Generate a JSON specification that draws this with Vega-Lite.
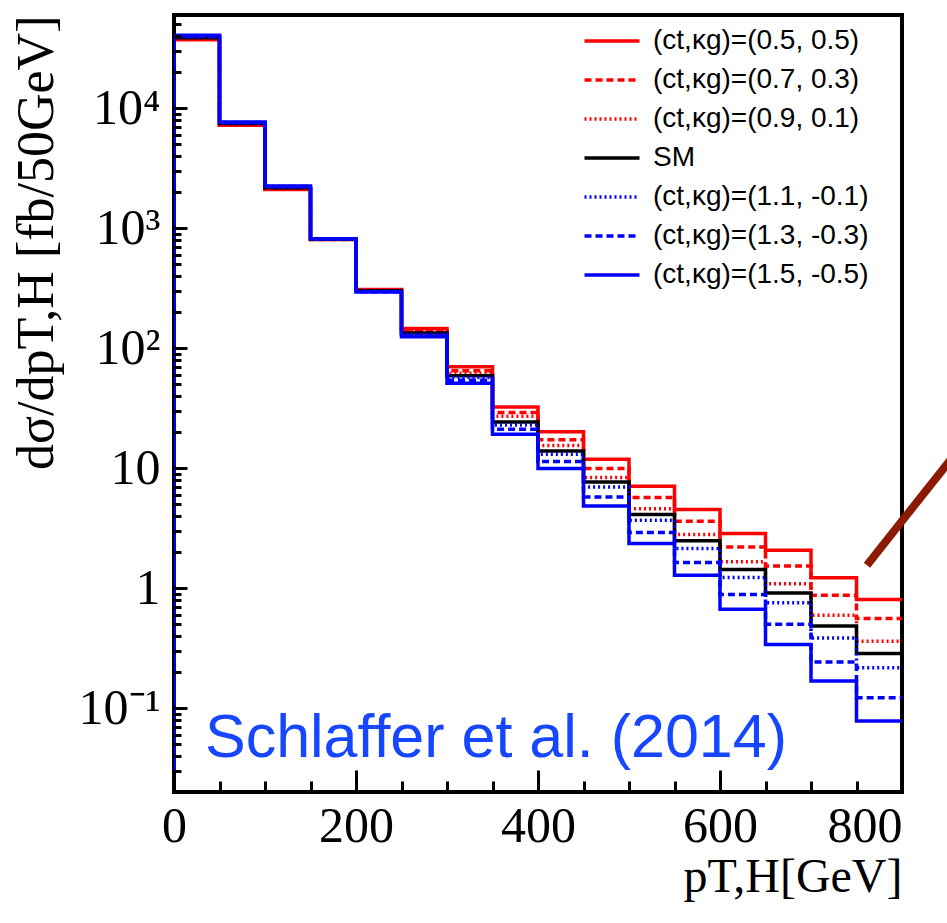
{
  "$schema": "https://vega.github.io/schema/vega-lite/v6.json",
  "width": 728,
  "height": 777,
  "autosize": {"type": "none"},
  "padding": {"left": 174, "top": 15, "right": 45, "bottom": 131},
  "background": "white",
  "config": {
    "view": {"stroke": "black", "strokeWidth": 4},
    "axis": {"labelColor": "black", "tickColor": "black", "titleColor": "black", "domain": false, "grid": false},
    "legend": {
      "orient": "none",
      "legendX": 424,
      "legendY": 12,
      "symbolType": "M-2.5,0H2.5",
      "symbolSize": 484,
      "symbolStrokeWidth": 3.5,
      "labelFont": "Liberation Sans",
      "labelFontSize": 28,
      "labelColor": "black",
      "labelOffset": 27,
      "rowPadding": 11,
      "padding": 0,
      "labelLimit": 500,
      "symbolLimit": 0
    }
  },
  "layer": [
    {
      "data": {"values": [
        {"s":"(ct,κg)=(0.5, 0.5)","x":0,"y":0.001},{"s":"(ct,κg)=(0.5, 0.5)","x":0,"y":37300},{"s":"(ct,κg)=(0.5, 0.5)","x":50,"y":7220},{"s":"(ct,κg)=(0.5, 0.5)","x":100,"y":2110},{"s":"(ct,κg)=(0.5, 0.5)","x":150,"y":805},{"s":"(ct,κg)=(0.5, 0.5)","x":200,"y":309},{"s":"(ct,κg)=(0.5, 0.5)","x":250,"y":146},{"s":"(ct,κg)=(0.5, 0.5)","x":300,"y":70},{"s":"(ct,κg)=(0.5, 0.5)","x":350,"y":32.4},{"s":"(ct,κg)=(0.5, 0.5)","x":400,"y":20.1},{"s":"(ct,κg)=(0.5, 0.5)","x":450,"y":11.9},{"s":"(ct,κg)=(0.5, 0.5)","x":500,"y":7.08},{"s":"(ct,κg)=(0.5, 0.5)","x":550,"y":4.53},{"s":"(ct,κg)=(0.5, 0.5)","x":600,"y":2.86},{"s":"(ct,κg)=(0.5, 0.5)","x":650,"y":2.07},{"s":"(ct,κg)=(0.5, 0.5)","x":700,"y":1.22},{"s":"(ct,κg)=(0.5, 0.5)","x":750,"y":0.805},{"s":"(ct,κg)=(0.5, 0.5)","x":800,"y":0.805},
        {"s":"(ct,κg)=(0.7, 0.3)","x":0,"y":0.001},{"s":"(ct,κg)=(0.7, 0.3)","x":0,"y":37800},{"s":"(ct,κg)=(0.7, 0.3)","x":50,"y":7300},{"s":"(ct,κg)=(0.7, 0.3)","x":100,"y":2130},{"s":"(ct,κg)=(0.7, 0.3)","x":150,"y":808},{"s":"(ct,κg)=(0.7, 0.3)","x":200,"y":306},{"s":"(ct,κg)=(0.7, 0.3)","x":250,"y":141},{"s":"(ct,κg)=(0.7, 0.3)","x":300,"y":65},{"s":"(ct,κg)=(0.7, 0.3)","x":350,"y":29.1},{"s":"(ct,κg)=(0.7, 0.3)","x":400,"y":17.3},{"s":"(ct,κg)=(0.7, 0.3)","x":450,"y":9.94},{"s":"(ct,κg)=(0.7, 0.3)","x":500,"y":5.7},{"s":"(ct,κg)=(0.7, 0.3)","x":550,"y":3.61},{"s":"(ct,κg)=(0.7, 0.3)","x":600,"y":2.21},{"s":"(ct,κg)=(0.7, 0.3)","x":650,"y":1.53},{"s":"(ct,κg)=(0.7, 0.3)","x":700,"y":0.874},{"s":"(ct,κg)=(0.7, 0.3)","x":750,"y":0.559},{"s":"(ct,κg)=(0.7, 0.3)","x":800,"y":0.559},
        {"s":"(ct,κg)=(0.9, 0.1)","x":0,"y":0.001},{"s":"(ct,κg)=(0.9, 0.1)","x":0,"y":38300},{"s":"(ct,κg)=(0.9, 0.1)","x":50,"y":7380},{"s":"(ct,κg)=(0.9, 0.1)","x":100,"y":2160},{"s":"(ct,κg)=(0.9, 0.1)","x":150,"y":810},{"s":"(ct,κg)=(0.9, 0.1)","x":200,"y":304},{"s":"(ct,κg)=(0.9, 0.1)","x":250,"y":138},{"s":"(ct,κg)=(0.9, 0.1)","x":300,"y":62},{"s":"(ct,κg)=(0.9, 0.1)","x":350,"y":27.1},{"s":"(ct,κg)=(0.9, 0.1)","x":400,"y":15.5},{"s":"(ct,κg)=(0.9, 0.1)","x":450,"y":8.36},{"s":"(ct,κg)=(0.9, 0.1)","x":500,"y":4.6},{"s":"(ct,κg)=(0.9, 0.1)","x":550,"y":2.8},{"s":"(ct,κg)=(0.9, 0.1)","x":600,"y":1.66},{"s":"(ct,κg)=(0.9, 0.1)","x":650,"y":1.09},{"s":"(ct,κg)=(0.9, 0.1)","x":700,"y":0.596},{"s":"(ct,κg)=(0.9, 0.1)","x":750,"y":0.362},{"s":"(ct,κg)=(0.9, 0.1)","x":800,"y":0.362},
        {"s":"SM","x":0,"y":0.001},{"s":"SM","x":0,"y":38800},{"s":"SM","x":50,"y":7460},{"s":"SM","x":100,"y":2180},{"s":"SM","x":150,"y":812},{"s":"SM","x":200,"y":301},{"s":"SM","x":250,"y":134},{"s":"SM","x":300,"y":59},{"s":"SM","x":350,"y":24.3},{"s":"SM","x":400,"y":13.9},{"s":"SM","x":450,"y":7.69},{"s":"SM","x":500,"y":4.11},{"s":"SM","x":550,"y":2.48},{"s":"SM","x":600,"y":1.43},{"s":"SM","x":650,"y":0.914},{"s":"SM","x":700,"y":0.485},{"s":"SM","x":750,"y":0.286},{"s":"SM","x":800,"y":0.286},
        {"s":"(ct,κg)=(1.1, -0.1)","x":0,"y":0.001},{"s":"(ct,κg)=(1.1, -0.1)","x":0,"y":39300},{"s":"(ct,κg)=(1.1, -0.1)","x":50,"y":7530},{"s":"(ct,κg)=(1.1, -0.1)","x":100,"y":2200},{"s":"(ct,κg)=(1.1, -0.1)","x":150,"y":815},{"s":"(ct,κg)=(1.1, -0.1)","x":200,"y":299},{"s":"(ct,κg)=(1.1, -0.1)","x":250,"y":131},{"s":"(ct,κg)=(1.1, -0.1)","x":300,"y":57},{"s":"(ct,κg)=(1.1, -0.1)","x":350,"y":22.9},{"s":"(ct,κg)=(1.1, -0.1)","x":400,"y":13.1},{"s":"(ct,κg)=(1.1, -0.1)","x":450,"y":6.98},{"s":"(ct,κg)=(1.1, -0.1)","x":500,"y":3.69},{"s":"(ct,κg)=(1.1, -0.1)","x":550,"y":2.14},{"s":"(ct,κg)=(1.1, -0.1)","x":600,"y":1.23},{"s":"(ct,κg)=(1.1, -0.1)","x":650,"y":0.755},{"s":"(ct,κg)=(1.1, -0.1)","x":700,"y":0.385},{"s":"(ct,κg)=(1.1, -0.1)","x":750,"y":0.217},{"s":"(ct,κg)=(1.1, -0.1)","x":800,"y":0.217},
        {"s":"(ct,κg)=(1.3, -0.3)","x":0,"y":0.001},{"s":"(ct,κg)=(1.3, -0.3)","x":0,"y":39900},{"s":"(ct,κg)=(1.3, -0.3)","x":50,"y":7610},{"s":"(ct,κg)=(1.3, -0.3)","x":100,"y":2230},{"s":"(ct,κg)=(1.3, -0.3)","x":150,"y":818},{"s":"(ct,κg)=(1.3, -0.3)","x":200,"y":296},{"s":"(ct,κg)=(1.3, -0.3)","x":250,"y":128},{"s":"(ct,κg)=(1.3, -0.3)","x":300,"y":54},{"s":"(ct,κg)=(1.3, -0.3)","x":350,"y":21.1},{"s":"(ct,κg)=(1.3, -0.3)","x":400,"y":11.4},{"s":"(ct,κg)=(1.3, -0.3)","x":450,"y":5.76},{"s":"(ct,κg)=(1.3, -0.3)","x":500,"y":2.91},{"s":"(ct,κg)=(1.3, -0.3)","x":550,"y":1.64},{"s":"(ct,κg)=(1.3, -0.3)","x":600,"y":0.886},{"s":"(ct,κg)=(1.3, -0.3)","x":650,"y":0.501},{"s":"(ct,κg)=(1.3, -0.3)","x":700,"y":0.243},{"s":"(ct,κg)=(1.3, -0.3)","x":750,"y":0.122},{"s":"(ct,κg)=(1.3, -0.3)","x":800,"y":0.122},
        {"s":"(ct,κg)=(1.5, -0.5)","x":0,"y":0.001},{"s":"(ct,κg)=(1.5, -0.5)","x":0,"y":40600},{"s":"(ct,κg)=(1.5, -0.5)","x":50,"y":7690},{"s":"(ct,κg)=(1.5, -0.5)","x":100,"y":2250},{"s":"(ct,κg)=(1.5, -0.5)","x":150,"y":820},{"s":"(ct,κg)=(1.5, -0.5)","x":200,"y":294},{"s":"(ct,κg)=(1.5, -0.5)","x":250,"y":125},{"s":"(ct,κg)=(1.5, -0.5)","x":300,"y":51},{"s":"(ct,κg)=(1.5, -0.5)","x":350,"y":19.2},{"s":"(ct,κg)=(1.5, -0.5)","x":400,"y":9.94},{"s":"(ct,κg)=(1.5, -0.5)","x":450,"y":4.85},{"s":"(ct,κg)=(1.5, -0.5)","x":500,"y":2.36},{"s":"(ct,κg)=(1.5, -0.5)","x":550,"y":1.28},{"s":"(ct,κg)=(1.5, -0.5)","x":600,"y":0.668},{"s":"(ct,κg)=(1.5, -0.5)","x":650,"y":0.34},{"s":"(ct,κg)=(1.5, -0.5)","x":700,"y":0.168},{"s":"(ct,κg)=(1.5, -0.5)","x":750,"y":0.078},{"s":"(ct,κg)=(1.5, -0.5)","x":800,"y":0.078}
      ]},
      "mark": {"type": "line", "interpolate": "step-after", "clip": true, "strokeWidth": 3.5},
      "encoding": {
        "x": {
          "field": "x", "type": "quantitative",
          "scale": {"domain": [0, 800], "nice": false},
          "axis": {
            "values": [0,50,100,150,200,250,300,350,400,450,500,550,600,650,700,750,800],
            "format": "d",
            "labelExpr": "datum.value % 200 == 0 ? datum.label : ''",
            "tickSize": {"condition": {"test": "datum.value % 200 == 0", "value": -22}, "value": -11},
            "tickWidth": 3,
            "labelFont": "Liberation Serif",
            "labelFontSize": 50,
            "labelPadding": 31,
            "labelBaseline": "top",
            "labelAlign": {"condition": {"test": "datum.value == 800", "value": "right"}, "value": "center"},
            "labelFlush": false,
            "labelOverlap": false,
            "title": "pT,H[GeV]",
            "titleFont": "Liberation Serif",
            "titleFontSize": 48,
            "titleFontWeight": "normal",
            "titleAnchor": "end",
            "titleAlign": "right",
            "titlePadding": -9,
            "zindex": 1
          }
        },
        "y": {
          "field": "y", "type": "quantitative",
          "scale": {"type": "log", "domain": [0.02, 60000], "nice": false},
          "axis": {
            "values": [0.02,0.03,0.04,0.05,0.06,0.07,0.08,0.09,0.1,0.2,0.3,0.4,0.5,0.6,0.7,0.8,0.9,1,2,3,4,5,6,7,8,9,10,20,30,40,50,60,70,80,90,100,200,300,400,500,600,700,800,900,1000,2000,3000,4000,5000,6000,7000,8000,9000,10000,20000,30000,40000,50000],
            "labelExpr": "datum.value == 10000 ? '10⁴' : datum.value == 1000 ? '10³' : datum.value == 100 ? '10²' : datum.value == 10 ? '10' : datum.value == 1 ? '1' : datum.value == 0.1 ? '10⁻¹' : ''",
            "tickSize": {"condition": {"test": "indexof([0.1,1,10,100,1000,10000], datum.value) >= 0", "value": -13}, "value": -7},
            "tickWidth": 3,
            "labelFont": "Liberation Serif",
            "labelFontSize": 50,
            "labelPadding": 27,
            "labelBaseline": "middle",
            "labelAlign": "right",
            "labelFlush": false,
            "labelOverlap": false,
            "title": "dσ/dpT,H [fb/50GeV]",
            "titleFont": "Liberation Serif",
            "titleFontSize": 52,
            "titleFontWeight": "normal",
            "titleAnchor": "end",
            "titlePadding": 15,
            "zindex": 1
          }
        },
        "color": {
          "field": "s", "type": "nominal",
          "scale": {
            "domain": ["(ct,κg)=(0.5, 0.5)","(ct,κg)=(0.7, 0.3)","(ct,κg)=(0.9, 0.1)","SM","(ct,κg)=(1.1, -0.1)","(ct,κg)=(1.3, -0.3)","(ct,κg)=(1.5, -0.5)"],
            "range": ["#ff0000","#ff0000","#ff0000","#000000","#0000ff","#0000ff","#0000ff"]
          },
          "legend": {"title": null}
        },
        "strokeDash": {
          "field": "s", "type": "nominal",
          "scale": {
            "domain": ["(ct,κg)=(0.5, 0.5)","(ct,κg)=(0.7, 0.3)","(ct,κg)=(0.9, 0.1)","SM","(ct,κg)=(1.1, -0.1)","(ct,κg)=(1.3, -0.3)","(ct,κg)=(1.5, -0.5)"],
            "range": [[1,0],[7,4],[2,3],[1,0],[2,3],[7,4],[1,0]]
          },
          "legend": {"title": null}
        }
      }
    },
    {
      "data": {"values": [{"label": "Schlaffer et al. (2014)"}]},
      "mark": {"type": "text", "align": "left", "baseline": "alphabetic", "font": "Liberation Sans", "fontSize": 61, "color": "#1646ff"},
      "encoding": {
        "x": {"datum": 34},
        "y": {"datum": 0.039},
        "text": {"field": "label"}
      }
    },
    {
      "data": {"values": [{}]},
      "mark": {"type": "rule", "color": "#8b1a00", "strokeWidth": 8, "clip": false},
      "encoding": {
        "x": {"datum": 761.5},
        "y": {"datum": 1.555},
        "x2": {"datum": 870},
        "y2": {"datum": 17}
      }
    }
  ]
}
